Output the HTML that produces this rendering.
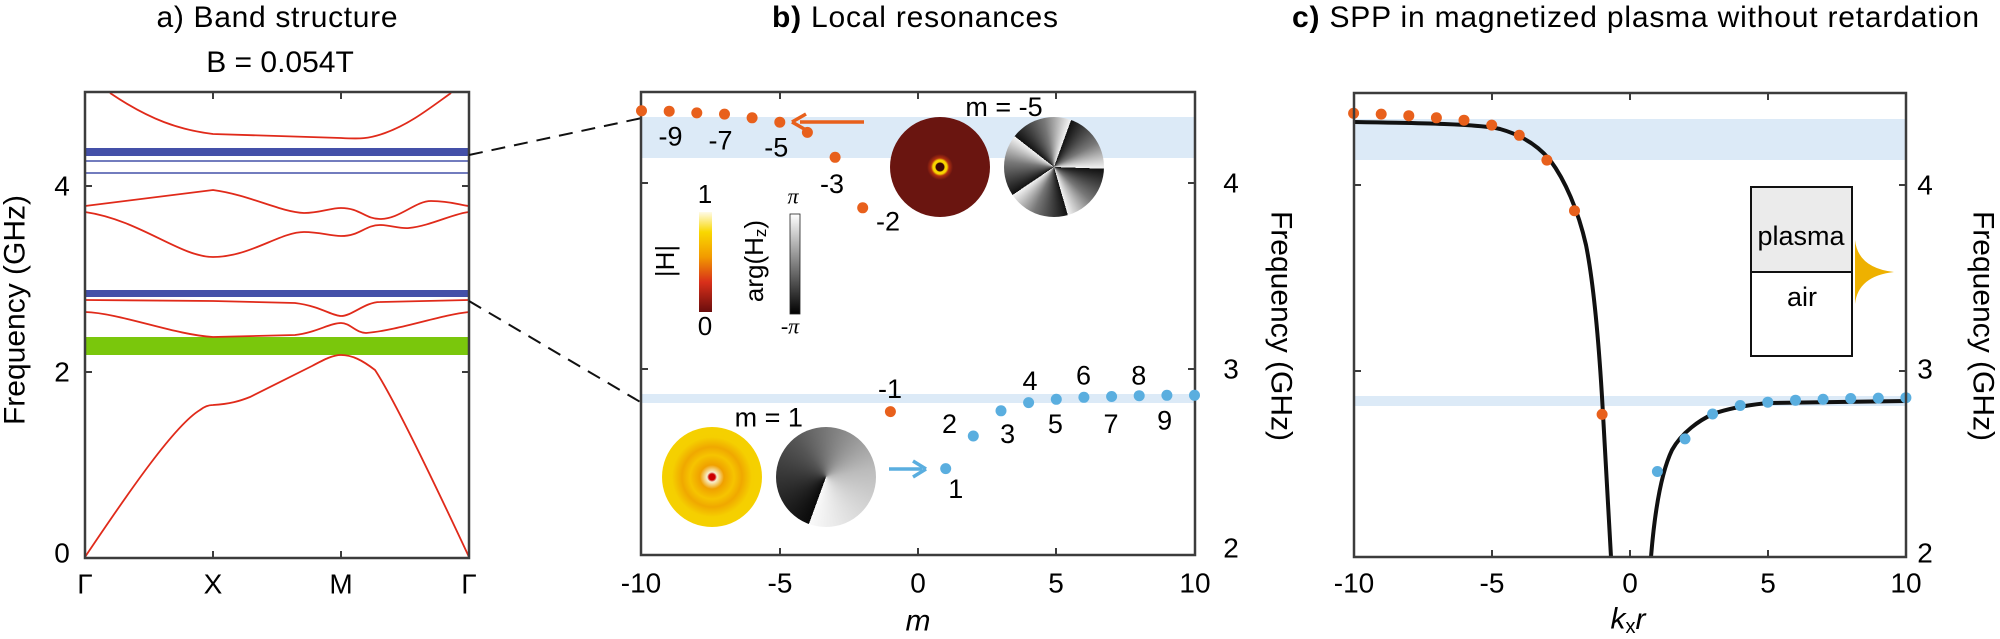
<!DOCTYPE html>
<html><head><meta charset="utf-8"><style>
body{margin:0;background:#fff;}
#w{position:relative;width:2000px;height:639px;overflow:hidden;background:#fff;}
svg{position:absolute;left:0;top:0;}
.c{position:absolute;border-radius:50%;}
</style></head><body><div id="w">
<svg width="2000" height="639" viewBox="0 0 2000 639" font-family="Liberation Sans, Arial, sans-serif">
<!-- Titles -->
<text x="277" y="27" font-size="30" text-anchor="middle" textLength="241">a) Band structure</text>
<text x="280" y="72" font-size="30" text-anchor="middle">B = 0.054T</text>
<text x="772" y="27" font-size="30" textLength="286"><tspan font-weight="bold">b)</tspan> Local resonances</text>
<text x="1292" y="27" font-size="30" textLength="687"><tspan font-weight="bold">c)</tspan> SPP in magnetized plasma without retardation</text>

<!-- Panel a -->
<rect x="85" y="148" width="384" height="8" fill="#4450a8"/>
<line x1="85" y1="161" x2="469" y2="161" stroke="#4450a8" stroke-width="1.5"/>
<line x1="85" y1="173" x2="469" y2="173" stroke="#4450a8" stroke-width="1.5"/>
<rect x="85" y="290" width="384" height="7" fill="#4450a8"/>
<rect x="85" y="337" width="384" height="18" fill="#7ac70c"/>
<g fill="none" stroke="#e02a1a" stroke-width="1.8">
<path d="M110,93 C150,120 180,130 213,134 L341,138 C360,139 368,139 385,133 C410,124 430,108 451,93"/>
<path d="M85,206 L213,190 C250,195 280,212 304,213 C320,213 330,208 341,208 C360,208 365,219 380,219 C400,219 415,201 431,201 C450,201 460,205 469,206"/>
<path d="M85,212 C140,220 180,257 213,257 C250,257 280,232 304,232 C320,232 330,236 341,236 C360,236 365,225 380,225 C390,225 400,229 409,228 C430,226 455,213 469,212"/>
<path d="M85,300 L213,301 L295,303 C320,306 332,316 341,316 C352,316 365,302 380,302 L469,300"/>
<path d="M85,312 C120,313 175,335 213,337 L295,335 C315,333 330,323 341,323 C350,323 356,333 366,333 C400,330 440,315 469,312"/>
<path d="M85,557 C130,490 175,425 200,410 C205,406 210,405 213,405 C230,404 240,401 250,397 L312,366 C325,359 333,355 341,355 C352,355 362,360 375,370 C395,400 440,495 469,557"/>
</g>
<rect x="85" y="92" width="384" height="466" fill="none" stroke="#3c3c3c" stroke-width="2.5"/>
<g stroke="#3c3c3c" stroke-width="2">
<path d="M213,92v7M341,92v7M213,558v-7M341,558v-7M85,186h7M85,372h7M469,186h-7M469,372h-7"/>
</g>
<g font-size="28" text-anchor="middle" dominant-baseline="central">
<text x="62" y="186">4</text><text x="62" y="372">2</text><text x="62" y="553">0</text>
<text x="85" y="584">Γ</text><text x="213" y="584">X</text><text x="341" y="584">M</text><text x="469" y="584">Γ</text>
</g>
<text transform="translate(15,310) rotate(-90)" font-size="30" text-anchor="middle" dominant-baseline="central">Frequency (GHz)</text>

<!-- dashed connectors -->
<g stroke="#111" stroke-width="2" stroke-dasharray="14,9">
<line x1="469" y1="155" x2="642" y2="118"/>
<line x1="469" y1="301" x2="642" y2="403"/>
</g>

<!-- Panel b -->
<rect x="641" y="117" width="554" height="41" fill="#dceaf7"/>
<rect x="641" y="394" width="554" height="9" fill="#dceaf7"/>
<rect x="641" y="92" width="554" height="463" fill="none" stroke="#3c3c3c" stroke-width="2.5"/>
<g stroke="#3c3c3c" stroke-width="2">
<path d="M780,92v7M918,92v7M1056,92v7M780,555v-7M918,555v-7M1056,555v-7M641,183h7M641,369h7M1195,183h-7M1195,369h-7"/>
</g>
<g fill="#e8601c">
<circle cx="641.5" cy="110.8" r="5.5"/><circle cx="669.2" cy="111.2" r="5.5"/><circle cx="696.8" cy="112.9" r="5.5"/><circle cx="724.5" cy="114.1" r="5.5"/><circle cx="752.1" cy="117.8" r="5.5"/><circle cx="779.8" cy="122.2" r="5.5"/><circle cx="807.4" cy="132.4" r="5.5"/><circle cx="835.1" cy="157.3" r="5.5"/><circle cx="862.7" cy="207.8" r="5.5"/><circle cx="890.4" cy="411.6" r="5.5"/>
</g>
<g fill="#5aaedf">
<circle cx="945.7" cy="468.6" r="5.5"/><circle cx="973.3" cy="436" r="5.5"/><circle cx="1001" cy="410.8" r="5.5"/><circle cx="1028.6" cy="402.6" r="5.5"/><circle cx="1056.3" cy="399.3" r="5.5"/><circle cx="1083.9" cy="397.3" r="5.5"/><circle cx="1111.6" cy="396.5" r="5.5"/><circle cx="1139.2" cy="395.7" r="5.5"/><circle cx="1166.9" cy="395.3" r="5.5"/><circle cx="1194.5" cy="395.3" r="5.5"/>
</g>
<g font-size="27" text-anchor="middle" dominant-baseline="central">
<text x="670.5" y="136.5">-9</text><text x="720.5" y="140.6">-7</text><text x="776.3" y="147.5">-5</text><text x="832" y="184.2">-3</text><text x="888" y="221.3">-2</text><text x="890" y="389">-1</text>
<text x="949.5" y="423.8">2</text><text x="1007.6" y="434">3</text><text x="1030" y="381">4</text><text x="1055.4" y="423.8">5</text><text x="1083.5" y="375.7">6</text><text x="1111" y="423.8">7</text><text x="1138.8" y="375.7">8</text><text x="1164.7" y="420.5">9</text><text x="955.8" y="489">1</text>
<text x="1004" y="106.8">m = -5</text><text x="768.8" y="417.7">m = 1</text>
</g>
<!-- arrows -->
<line x1="864" y1="122" x2="800" y2="122" stroke="#e8601c" stroke-width="3.5"/>
<path d="M792,122 L806,114 M792,122 L806,130" stroke="#e8601c" stroke-width="3.5" fill="none"/>
<line x1="889" y1="469" x2="922" y2="469" stroke="#5aaedf" stroke-width="3.5"/>
<path d="M926,469 L913,461 M926,469 L913,477" stroke="#5aaedf" stroke-width="3.5" fill="none"/>
<!-- colorbars -->
<defs>
<linearGradient id="hot" x1="0" y1="1" x2="0" y2="0"><stop offset="0" stop-color="#6a0d0d"/><stop offset="0.3" stop-color="#d9301a"/><stop offset="0.55" stop-color="#f29a00"/><stop offset="0.8" stop-color="#f9d800"/><stop offset="1" stop-color="#fffbe8"/></linearGradient>
<linearGradient id="gr" x1="0" y1="1" x2="0" y2="0"><stop offset="0" stop-color="#000"/><stop offset="1" stop-color="#fff"/></linearGradient>
</defs>
<rect x="699" y="212" width="13" height="100" fill="url(#hot)"/>
<rect x="790" y="214" width="10" height="100" fill="url(#gr)" stroke="#222" stroke-width="0.8"/>
<g font-size="26" text-anchor="middle" dominant-baseline="central">
<text x="705" y="194">1</text><text x="705" y="326">0</text>
<text x="793" y="196" font-family="Liberation Serif, serif" font-style="italic" font-size="22">π</text>
<text x="790" y="326" font-family="Liberation Serif, serif" font-style="italic" font-size="22">-π</text>
<text transform="translate(665,261) rotate(-90)">|H|</text>
<text transform="translate(754,261) rotate(-90)">arg(H<tspan font-size="17" dy="6">z</tspan><tspan dy="-6">)</tspan></text>
</g>
<g font-size="28" text-anchor="middle" dominant-baseline="central">
<text x="641" y="583">-10</text><text x="780" y="583">-5</text><text x="918" y="583">0</text><text x="1056" y="583">5</text><text x="1195" y="583">10</text>
<text x="1231" y="183">4</text><text x="1231" y="369">3</text><text x="1231" y="548">2</text>
<text x="918" y="621" font-style="italic" font-size="30">m</text>
</g>
<text transform="translate(1281,326) rotate(90)" font-size="30" text-anchor="middle" dominant-baseline="central">Frequency (GHz)</text>

<!-- Panel c -->
<rect x="1354" y="119" width="552" height="41" fill="#dceaf7"/>
<rect x="1354" y="396" width="552" height="10" fill="#dceaf7"/>
<g fill="none" stroke="#111" stroke-width="4">
<path d="M1354,122 C1420,123 1480,124 1500,129 C1525,136 1540,148 1550,160 C1565,180 1578,210 1586,245 C1595,290 1600,360 1603,414 L1611,557"/>
<path d="M1651,557 C1654,520 1660,475 1672,450 C1682,432 1700,420 1713,414 C1735,406 1760,404 1768,403 L1906,401"/>
</g>
<g fill="#e8601c">
<circle cx="1353.6" cy="113.3" r="5.5"/><circle cx="1381.2" cy="114.1" r="5.5"/><circle cx="1408.8" cy="115.7" r="5.5"/><circle cx="1436.4" cy="117.8" r="5.5"/><circle cx="1464" cy="120.2" r="5.5"/><circle cx="1491.7" cy="125.1" r="5.5"/><circle cx="1519.3" cy="135.3" r="5.5"/><circle cx="1546.9" cy="160.1" r="5.5"/><circle cx="1574.5" cy="210.7" r="5.5"/><circle cx="1602.1" cy="414.4" r="5.5"/>
</g>
<g fill="#5aaedf">
<circle cx="1657.4" cy="471.5" r="5.5"/><circle cx="1685" cy="438.9" r="5.5"/><circle cx="1712.6" cy="414" r="5.5"/><circle cx="1740.2" cy="405.5" r="5.5"/><circle cx="1767.8" cy="402.2" r="5.5"/><circle cx="1795.5" cy="400.2" r="5.5"/><circle cx="1823.1" cy="399.3" r="5.5"/><circle cx="1850.7" cy="398.5" r="5.5"/><circle cx="1878.3" cy="398.1" r="5.5"/><circle cx="1905.9" cy="397.7" r="5.5"/>
</g>
<rect x="1354" y="93" width="552" height="464" fill="none" stroke="#3c3c3c" stroke-width="2.5"/>
<g stroke="#3c3c3c" stroke-width="2">
<path d="M1492,93v7M1630,93v7M1768,93v7M1492,557v-7M1630,557v-7M1768,557v-7M1354,185h7M1354,371h7M1906,185h-7M1906,371h-7"/>
</g>
<!-- inset -->
<rect x="1751" y="187" width="101" height="85" fill="#ebebeb"/>
<rect x="1751" y="187" width="101" height="169" fill="none" stroke="#111" stroke-width="2"/>
<line x1="1751" y1="272" x2="1852" y2="272" stroke="#111" stroke-width="2"/>
<path d="M1855,240 Q1858,268 1894,272 Q1858,276 1855,304 Z" fill="#eeb100"/>
<g font-size="27" text-anchor="middle" dominant-baseline="central">
<text x="1801" y="236">plasma</text><text x="1802" y="297">air</text>
</g>
<g font-size="28" text-anchor="middle" dominant-baseline="central">
<text x="1354" y="583">-10</text><text x="1492" y="583">-5</text><text x="1630" y="583">0</text><text x="1768" y="583">5</text><text x="1906" y="583">10</text>
<text x="1925" y="185">4</text><text x="1925" y="369">3</text><text x="1925" y="553">2</text>
<text x="1628" y="619" font-style="italic" font-size="30">k<tspan font-style="normal" font-size="20" dy="8">x</tspan><tspan dy="-8">r</tspan></text>
</g>
<text transform="translate(1983,326) rotate(90)" font-size="30" text-anchor="middle" dominant-baseline="central">Frequency (GHz)</text>
</svg>
<!-- field images -->
<div class="c" style="left:890px;top:117px;width:100px;height:100px;background:radial-gradient(circle at 50% 50%, #3a0806 0, #3a0806 4px, #f9d400 5px, #f9d400 7px, #b03010 9px, #6a1510 13px, #6a1510 100%);"></div>
<div class="c" style="left:1004px;top:117px;width:100px;height:100px;background:repeating-conic-gradient(from 20deg, #111 0deg, #777 40deg, #f4f4f4 72deg);"></div>
<div class="c" style="left:662px;top:427px;width:100px;height:100px;background:radial-gradient(circle at 50% 50%, #c00 0, #c00 3px, #f7f0d0 5px, #f0a000 12px, #f6c400 22px, #f0a800 30px, #f5cf00 40px, #f6d400 100%);"></div>
<div class="c" style="left:776px;top:427px;width:100px;height:100px;background:conic-gradient(from 200deg, #0a0a0a 0deg, #555 120deg, #bbb 240deg, #fafafa 360deg);"></div>
</div></body></html>
